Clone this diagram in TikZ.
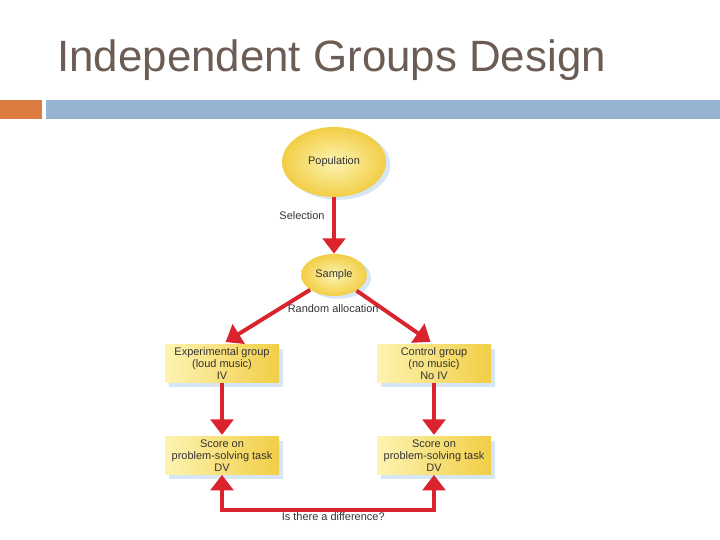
\documentclass[tikz,border=0pt]{standalone}
\usepackage{fontspec}
\setmainfont{Liberation Sans}
\usetikzlibrary{arrows.meta,positioning,shadows,calc,shapes.geometric}
\definecolor{titleBrown}{RGB}{107,92,84}
\definecolor{barOrange}{RGB}{221,124,64}
\definecolor{barBlue}{RGB}{148,180,210}
\definecolor{arrowRed}{RGB}{218,35,45}
\definecolor{yelLight}{RGB}{253,244,178}
\definecolor{yelDark}{RGB}{242,206,70}
\definecolor{shadowBlue}{RGB}{214,230,245}
\tikzset{
  blob/.style={ellipse,shading=radial,inner color=yelLight,outer color=yelDark,
    drop shadow={fill=shadowBlue,opacity=1,shadow xshift=3pt,shadow yshift=-2pt},
    font=\fontsize{7.8}{8.5}\selectfont,text=black!80},
  groupbox/.style={rectangle,left color=yelLight,right color=yelDark,
    minimum width=2.85cm,minimum height=0.95cm,align=center,inner sep=2pt,
    drop shadow={fill=shadowBlue,opacity=1,shadow xshift=3pt,shadow yshift=-3pt},
    font=\fontsize{7.8}{8.3}\selectfont,text=black!80},
  redarrow/.style={draw=arrowRed,line width=2.8pt,-{Triangle[length=11pt,width=16pt]}},
  steplabel/.style={font=\fontsize{7.8}{8.5}\selectfont,text=black!80}
}
\begin{document}
\begin{tikzpicture}
\useasboundingbox (0,0) rectangle (18,13.5);
% title and bars
\node[anchor=base west,inner sep=0pt,text=titleBrown,font=\fontsize{31.2}{34}\selectfont] (title) at (1.425,11.72) {Independent Groups Design};
\fill[barOrange] (0,10.525) rectangle (1.05,11.0);
\fill[barBlue] (1.15,10.525) rectangle (18,11.0);
% nodes
\node[blob,minimum width=2.6cm,minimum height=1.75cm] (population) at (8.35,9.45) {Population};
\node[blob,minimum width=1.6cm,minimum height=1.05cm] (sample) at (8.35,6.625) {Sample};
\node[groupbox] (expgroup) at (5.55,4.41) {Experimental group\\(loud music)\\IV};
\node[groupbox] (ctrlgroup) at (10.85,4.41) {Control group\\(no music)\\No IV};
\node[groupbox] (expscore) at (5.55,2.11) {Score on\\problem-solving task\\DV};
\node[groupbox] (ctrlscore) at (10.85,2.11) {Score on\\problem-solving task\\DV};
\coordinate (diff) at (8.2,0.75);
% connectors
\draw[redarrow] (population) -- (sample);
\draw[redarrow,shorten >=3pt] (sample) -- (expgroup.north);
\draw[redarrow,shorten >=3pt] (sample) -- (ctrlgroup.north);
\draw[redarrow,shorten >=1pt] (expgroup) -- (expscore);
\draw[redarrow,shorten >=1pt] (ctrlgroup) -- (ctrlscore);
\draw[redarrow,{Triangle[length=11pt,width=16pt]}-{Triangle[length=11pt,width=16pt]}] (expscore.south) |- (diff) -| (ctrlscore.south);
% labels
\node[steplabel] (sellabel) at (7.55,8.1) {Selection};
\node[steplabel] (randlabel) at (8.33,5.775) {Random allocation};
\node[steplabel] (difflabel) at (8.33,0.58) {Is there a difference?};
\end{tikzpicture}
\end{document}
